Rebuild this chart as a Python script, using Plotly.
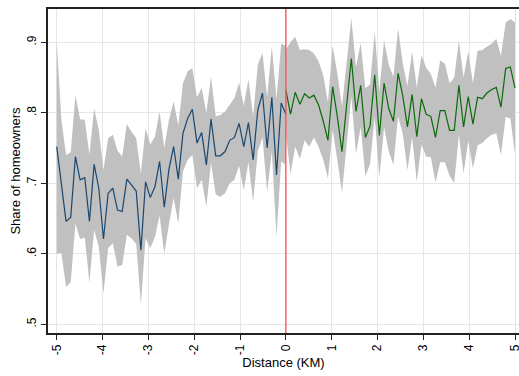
import numpy as np
import plotly.graph_objects as go

# distance bins (KM)
x_left = [round(v, 4) for v in np.linspace(-5, 0, 50)]
x_right = [round(v, 4) for v in np.linspace(0, 5, 50)]

left_mean = [.752, .699, .646, .652, .738, .705, .708, .646, .727, .693,
             .621, .686, .693, .662, .660, .706, .697, .689, .605, .702,
             .680, .695, .731, .666, .720, .752, .706, .771, .792, .805,
             .757, .772, .726, .791, .739, .739, .745, .761, .765, .785,
             .752, .786, .733, .804, .828, .750, .822, .712, .814, .798]
left_upper = [.903, .790, .740, .744, .825, .791, .790, .741, .806, .776,
              .719, .764, .769, .746, .738, .784, .773, .764, .714, .778,
              .755, .766, .802, .750, .790, .816, .782, .842, .859, .863,
              .822, .835, .800, .851, .795, .797, .802, .811, .821, .843,
              .810, .848, .795, .868, .885, .822, .894, .820, .898, .895]
left_lower = [.600, .601, .553, .560, .643, .621, .623, .559, .634, .610,
              .544, .608, .615, .582, .584, .627, .622, .614, .529, .622,
              .608, .624, .654, .600, .642, .679, .643, .717, .733, .740,
              .693, .705, .667, .729, .684, .681, .686, .700, .705, .725,
              .690, .730, .674, .745, .765, .688, .745, .624, .731, .726]

right_mean = [.832, .798, .829, .812, .827, .821, .825, .811, .788, .761,
              .837, .795, .745, .813, .877, .802, .839, .765, .781, .854,
              .768, .842, .806, .788, .856, .824, .780, .826, .766, .820,
              .798, .795, .765, .803, .803, .775, .775, .839, .780, .823,
              .784, .822, .820, .828, .833, .836, .808, .863, .865, .835]
right_upper = [.890, .900, .908, .889, .890, .889, .884, .873, .853, .815,
               .895, .856, .809, .869, .934, .865, .899, .835, .840, .915,
               .831, .903, .868, .851, .920, .870, .838, .887, .836, .882,
               .864, .855, .836, .874, .870, .842, .850, .902, .850, .887,
               .842, .888, .889, .894, .898, .905, .881, .928, .933, .928]
right_lower = [.771, .713, .752, .735, .761, .752, .765, .752, .733, .707,
               .776, .733, .687, .757, .823, .742, .780, .710, .727, .794,
               .709, .780, .745, .726, .795, .770, .719, .766, .702, .755,
               .738, .737, .701, .730, .730, .711, .700, .769, .714, .760,
               .721, .754, .757, .764, .769, .771, .740, .794, .792, .742]

x_ticks = [-5, -4, -3, -2, -1, 0, 1, 2, 3, 4, 5]
y_ticks = [.5, .6, .7, .8, .9]
y_tick_labels = [".5", ".6", ".7", ".8", ".9"]

band_color = "#c0c0c0"
fig = go.Figure()

for xs, lo, hi in [(x_left, left_lower, left_upper), (x_right, right_lower, right_upper)]:
    fig.add_trace(go.Scatter(
        x=list(xs) + list(xs)[::-1], y=list(hi) + list(lo)[::-1],
        fill="toself", fillcolor=band_color, line=dict(width=0),
        mode="lines", hoverinfo="skip", showlegend=False))

fig.add_shape(type="line", x0=0, x1=0, y0=0, y1=1, xref="x", yref="paper",
              line=dict(color="#ff4d4d", width=1.3), layer="above")

fig.add_trace(go.Scatter(x=x_left, y=left_mean, mode="lines",
                         line=dict(color="#1a476f", width=1.2), showlegend=False))
fig.add_trace(go.Scatter(x=x_right, y=right_mean, mode="lines",
                         line=dict(color="#0a6a0a", width=1.2), showlegend=False))

font = dict(family="Liberation Sans, Arial, sans-serif", size=12, color="#000")
fig.update_layout(
    width=519, height=376,
    margin=dict(l=48, r=0, t=9, b=43),
    plot_bgcolor="white", paper_bgcolor="white",
    font=font,
    xaxis=dict(range=[-5.19, 5.087], tickvals=x_ticks, ticktext=[str(t) for t in x_ticks],
               tickangle=-90, showgrid=True, gridcolor="#e6e6e6", gridwidth=1,
               zeroline=False, showline=True, linecolor="#222", linewidth=1.5,
               mirror=True, ticks="outside", ticklen=5, tickcolor="#222",
               automargin=False, ticklabeloverflow="allow",
               title=dict(text="Distance (KM)", font=dict(size=13), standoff=2)),
    yaxis=dict(range=[0.4877, 0.9472], tickvals=y_ticks, ticktext=y_tick_labels,
               tickangle=-90, showgrid=True, gridcolor="#e6e6e6", gridwidth=1,
               zeroline=False, showline=True, linecolor="#222", linewidth=1.5,
               ticks="outside", ticklen=5, tickcolor="#222",
               automargin=False,
               title=dict(text="Share of homeowners", font=dict(size=13), standoff=2)),
)

# remove the page's default body margin so the 519x376 figure fills the window
fig.write_html("out.html",
               config={"displayModeBar": False},
               post_script="document.body.style.margin='0';document.body.style.overflow='hidden';")
